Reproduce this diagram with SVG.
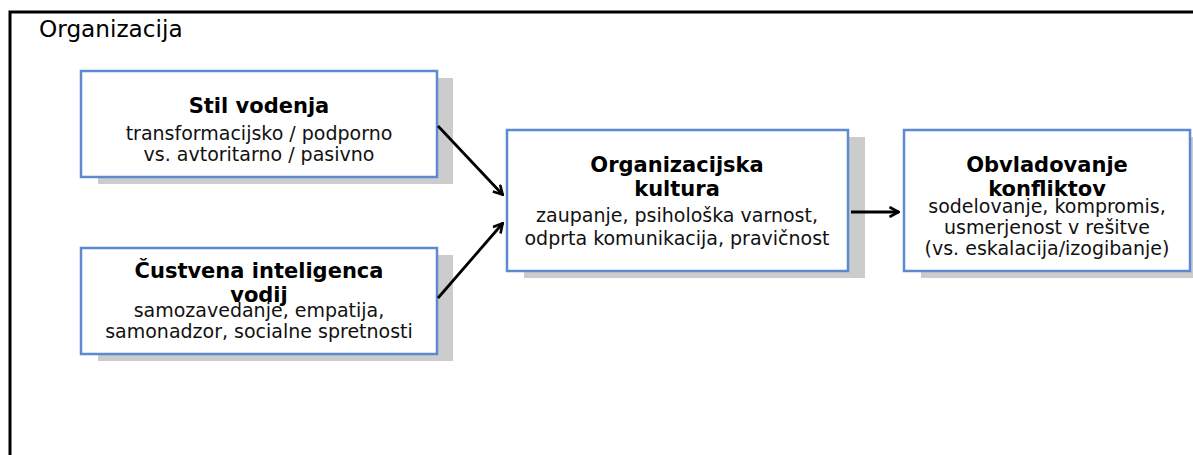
<svg xmlns="http://www.w3.org/2000/svg" width="1193" height="455" viewBox="0 0 1193 455">
<defs>
<marker id="arr" viewBox="0 0 12 12" refX="11" refY="6" markerWidth="12" markerHeight="12" markerUnits="userSpaceOnUse" orient="auto">
<path d="M1.5,1 L10.5,6 L1.5,11" fill="none" stroke="#000" stroke-width="2.6" stroke-linejoin="miter"/>
</marker>
<style>
.frame{fill:none;stroke:#000;stroke-width:3}
.shadow{fill:#cccccc}
.box{fill:#fff;stroke:#5b8ad0;stroke-width:2.5}
.t{font-family:"DejaVu Sans",sans-serif;text-anchor:middle;fill:#000}
.h{font-weight:bold;font-size:21px}
.b{font-size:19px;fill:#111}
.lbl{font-family:"DejaVu Sans",sans-serif;font-size:23.2px;fill:#000}
.con{fill:none;stroke:#000;stroke-width:2.8;marker-end:url(#arr)}
</style>
</defs>
<rect width="1193" height="455" fill="#fff"/>
<g id="organizacija">
<path class="frame" d="M10,460 L10,12 L1200,12"/>
<text class="lbl" x="39" y="37">Organizacija</text>
</g>
<g id="stil">
<rect class="shadow" x="98" y="78" width="355" height="106"/>
<rect class="box" x="81" y="71" width="356" height="106"/>
<text class="t h" x="259" y="113">Stil vodenja</text>
<text class="t b" x="259" y="140">transformacijsko / podporno</text>
<text class="t b" x="259" y="161">vs. avtoritarno / pasivno</text>
</g>
<g id="custvena">
<rect class="shadow" x="98" y="255" width="355" height="106"/>
<rect class="box" x="81" y="248" width="356" height="106"/>
<text class="t h" x="259" y="278">Čustvena inteligenca</text>
<text class="t h" x="259" y="302">vodij</text>
<text class="t b" x="259" y="317">samozavedanje, empatija,</text>
<text class="t b" x="259" y="338">samonadzor, socialne spretnosti</text>
</g>
<g id="kultura">
<rect class="shadow" x="524" y="137" width="341" height="141"/>
<rect class="box" x="507" y="130" width="341" height="141"/>
<text class="t h" x="677" y="172">Organizacijska</text>
<text class="t h" x="677" y="196">kultura</text>
<text class="t b" x="677" y="222">zaupanje, psihološka varnost,</text>
<text class="t b" x="677" y="245">odprta komunikacija, pravičnost</text>
</g>
<g id="konflikti">
<rect class="shadow" x="921" y="137" width="290" height="141"/>
<rect class="box" x="904" y="130" width="286" height="141"/>
<text class="t h" x="1047" y="172">Obvladovanje</text>
<text class="t h" x="1047" y="196">konfliktov</text>
<text class="t b" x="1047" y="213">sodelovanje, kompromis,</text>
<text class="t b" x="1047" y="234">usmerjenost v rešitve</text>
<text class="t b" x="1047" y="255">(vs. eskalacija/izogibanje)</text>
</g>
<g id="connectors">
<line class="con" x1="438" y1="126" x2="503" y2="195"/>
<line class="con" x1="438" y1="298" x2="503" y2="223"/>
<line class="con" x1="851" y1="212" x2="899" y2="212"/>
</g>
</svg>
